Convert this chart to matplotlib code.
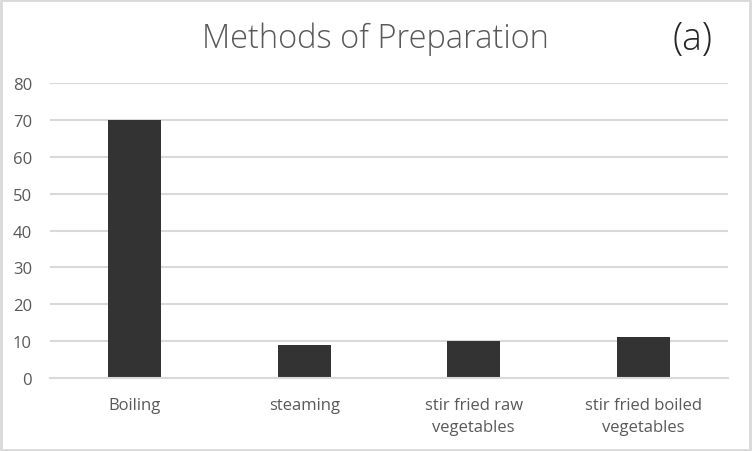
import numpy as np
import matplotlib.pyplot as plt
from matplotlib.patches import Rectangle

# data
methods = ["Boiling", "steaming", "stir fried raw\nvegetables", "stir fried boiled\nvegetables"]
counts = [70, 9, 10, 11]
y_ticks = [0, 10, 20, 30, 40, 50, 60, 70, 80]

plt.rcParams['font.family'] = ['Open Sans', 'DejaVu Sans']
text_col = "#595959"
grid_col = "#d9d9d9"

fig = plt.figure(figsize=(7.52, 4.52), dpi=100)
ax = fig.add_axes([50 / 752, 73 / 452, 678 / 752, 295 / 452])

x = np.arange(len(methods))
ax.bar(x, counts, width=0.313, color="#333333", zorder=3)

ax.set_xlim(-0.5, len(methods) - 0.5)
ax.set_ylim(0, 80)
ax.set_yticks(y_ticks)
ax.set_xticks(x)
ax.set_xticklabels(methods, linespacing=1.5)
ax.yaxis.grid(True, color=grid_col, linewidth=1.5, zorder=0)
ax.set_axisbelow(True)

for s in ["top", "right", "left"]:
    ax.spines[s].set_visible(False)
ax.spines["bottom"].set_color(grid_col)
ax.spines["bottom"].set_linewidth(1.5)
ax.spines["bottom"].set_zorder(4)

ax.tick_params(axis="both", length=0, labelsize=12, labelcolor=text_col)
ax.tick_params(axis="x", pad=14)
ax.tick_params(axis="y", pad=13)

fig.text(375 / 752, 1 - 39 / 452, "Methods of Preparation", ha="center", va="center",
         fontsize=23.5, color=text_col, fontweight="light")
fig.text(692 / 752, 1 - 40 / 452, "(a)", ha="center", va="center",
         fontsize=27, color="#262626", fontweight="light")

# light grey frame around the whole chart
fig.patches.append(Rectangle((0.001, 0.002), 0.997, 0.995, transform=fig.transFigure,
                             fill=False, edgecolor=grid_col, linewidth=2))

fig.savefig("out.png", dpi=100)
